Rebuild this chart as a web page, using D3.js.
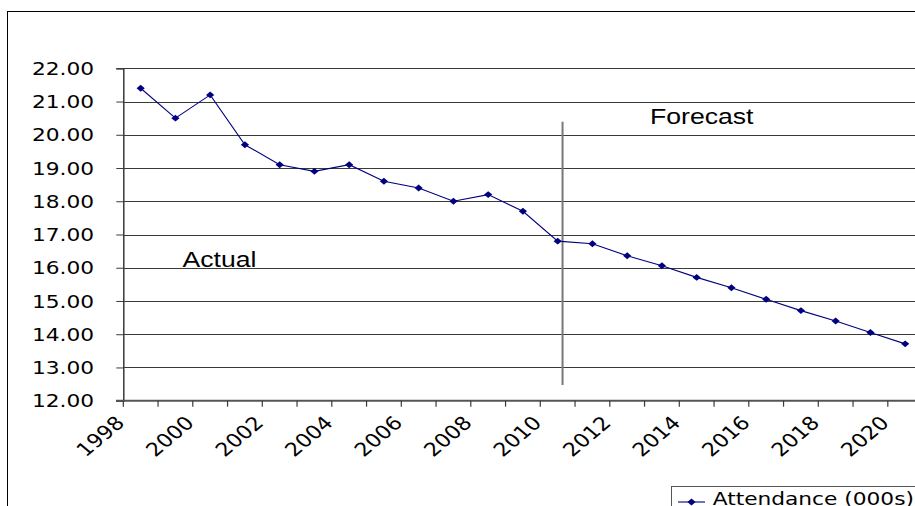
<!DOCTYPE html>
<html>
<head>
<meta charset="utf-8">
<script src="https://cdn.jsdelivr.net/npm/d3@7"></script>
<style>
  html, body { margin: 0; padding: 0; background: #fff; }
  svg { display: block; }
</style>
</head>
<body>
<svg id="chart" width="915" height="506"></svg>
<script>
// Attendance (000s), 1998–2010 actual, 2011–2020 forecast
const years = ["1998","1999","2000","2001","2002","2003","2004","2005","2006","2007","2008","2009","2010",
               "2011","2012","2013","2014","2015","2016","2017","2018","2019","2020"];
const attendance = [21.4, 20.5, 21.2, 19.7, 19.1, 18.9, 19.1, 18.6, 18.4, 18.0, 18.2, 17.7, 16.8,
                    16.72, 16.36, 16.06, 15.71, 15.40, 15.05, 14.71, 14.40, 14.05, 13.71];
const yTicks = [12, 13, 14, 15, 16, 17, 18, 19, 20, 21, 22];
const xLabels = ["1998","2000","2002","2004","2006","2008","2010","2012","2014","2016","2018","2020"];
const seriesName = "Attendance (000s)";
const lastActual = "2010";
const dividerRange = [12.47, 20.39];

(function () {
  const svg = d3.select("#chart");
  const SX = 1.18;   // horizontal widening of axis text
  const SXA = 1.21;  // horizontal widening of annotation text

  const plotLeft = 123.3, bandW = 34.75, plotTop = 68.3, plotBottom = 400.7;
  const x = d3.scaleBand().domain(years).range([plotLeft, plotLeft + years.length * bandW]).padding(0);
  const y = d3.scaleLinear().domain([12, 22]).range([plotBottom, plotTop]);

  svg.append("rect").attr("width", 915).attr("height", 506).attr("fill", "#fff");

  // outer chart frame
  svg.append("rect")
    .attr("x", 7.5).attr("y", 11.5).attr("width", 1000).attr("height", 600)
    .attr("fill", "none").attr("stroke", "#000").attr("stroke-width", 1);

  // horizontal gridlines
  svg.append("g").selectAll("line").data(yTicks.filter(d => d > 12)).join("line")
    .attr("x1", plotLeft).attr("x2", 930)
    .attr("y1", d => Math.round(y(d)) + 0.5).attr("y2", d => Math.round(y(d)) + 0.5)
    .attr("stroke", "#3a3a3a").attr("stroke-width", 1);

  // y axis
  const yAxis = svg.append("g").attr("transform", `translate(${plotLeft},0)`)
    .call(d3.axisLeft(y).tickValues(yTicks).tickSize(7).tickFormat(""));
  yAxis.select(".domain").attr("stroke", "#3a3a3a").attr("stroke-width", 1.5);
  yAxis.selectAll(".tick line").attr("stroke", "#3a3a3a");
  svg.append("g").selectAll("text").data(yTicks).join("text")
    .attr("transform", d => `translate(94,${y(d) + 6.6}) scale(${SX},1)`)
    .attr("text-anchor", "end")
    .attr("font-family", "DejaVu Sans, Verdana, sans-serif")
    .attr("font-size", 18.4).attr("fill", "#000")
    .text(d3.format(".2f"));

  // x axis: ticks at category boundaries
  const xAxisG = svg.append("g");
  xAxisG.append("line")
    .attr("x1", 116).attr("x2", 930).attr("y1", plotBottom).attr("y2", plotBottom)
    .attr("stroke", "#555").attr("stroke-width", 2);
  xAxisG.selectAll("line.tk").data(years).join("line").attr("class", "tk")
    .attr("x1", d => x(d)).attr("x2", d => x(d))
    .attr("y1", plotBottom).attr("y2", plotBottom + 6)
    .attr("stroke", "#3a3a3a").attr("stroke-width", 1.2);
  xAxisG.selectAll("text").data(xLabels).join("text")
    .attr("transform", d => `translate(${x(d) + bandW / 2 - 15},424) scale(${SX},1) rotate(-45)`)
    .attr("text-anchor", "end")
    .attr("font-family", "DejaVu Sans, Verdana, sans-serif")
    .attr("font-size", 18.8).attr("fill", "#000")
    .text(d => d);

  // divider between actual and forecast
  const divX = x(lastActual) + bandW * 0.64;
  svg.append("line")
    .attr("x1", divX).attr("x2", divX)
    .attr("y1", y(dividerRange[1])).attr("y2", y(dividerRange[0]))
    .attr("stroke", "#777").attr("stroke-width", 2);

  // annotations
  svg.append("text")
    .attr("transform", `translate(182.5,267.3) scale(${SXA},1)`)
    .attr("font-family", "Liberation Sans, Arial, sans-serif")
    .attr("font-size", 22).attr("fill", "#000").text("Actual");
  svg.append("text")
    .attr("transform", `translate(650,124.3) scale(${SXA},1)`)
    .attr("font-family", "Liberation Sans, Arial, sans-serif")
    .attr("font-size", 22).attr("fill", "#000").text("Forecast");

  // series line and markers
  const navy = "#000080";
  const pts = years.map((yr, i) => ({ yr, v: attendance[i] }));
  const line = d3.line().x(d => x(d.yr) + bandW / 2).y(d => y(d.v));
  svg.append("path").datum(pts)
    .attr("d", line).attr("fill", "none").attr("stroke", navy).attr("stroke-width", 1.1);

  const diamond = d3.symbol().type(d3.symbolSquare).size(24);
  svg.append("g").selectAll("path").data(pts).join("path")
    .attr("d", diamond)
    .attr("transform", d => `translate(${x(d.yr) + bandW / 2},${y(d.v)}) scale(${SX},1) rotate(45)`)
    .attr("fill", navy);

  // legend
  const lg = svg.append("g");
  lg.append("rect")
    .attr("x", 671.5).attr("y", 486.5).attr("width", 400).attr("height", 60)
    .attr("fill", "#fff").attr("stroke", "#555").attr("stroke-width", 1);
  lg.append("line").attr("x1", 678).attr("x2", 705).attr("y1", 502).attr("y2", 502)
    .attr("stroke", navy).attr("stroke-width", 1.1);
  lg.append("path").attr("d", diamond)
    .attr("transform", `translate(691.5,502) scale(${SX},1) rotate(45)`).attr("fill", navy);
  lg.append("text")
    .attr("transform", `translate(712.7,504.8) scale(${SX},1)`)
    .attr("font-family", "DejaVu Sans, Verdana, sans-serif")
    .attr("font-size", 18.4).attr("fill", "#000").text(seriesName);
})();
</script>
</body>
</html>
